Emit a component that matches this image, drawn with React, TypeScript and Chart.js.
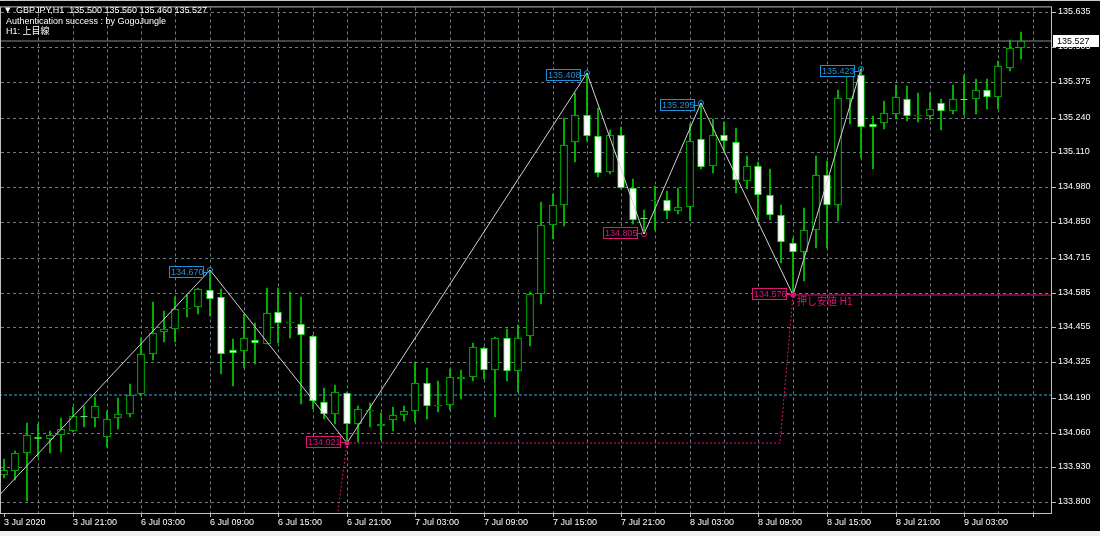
import React, { useEffect, useRef } from 'react';
import { Chart, registerables } from 'chart.js';

Chart.register(...registerables);

// ---- data ----
const opens = [133.903,133.917,133.985,134.043,134.037,134.053,134.065,134.124,134.116,134.043,134.116,134.129,134.205,134.356,134.438,134.447,134.522,134.530,134.596,134.568,134.369,134.366,134.408,134.393,134.512,134.471,134.469,134.424,134.174,134.130,134.209,134.093,134.142,134.086,134.109,134.127,134.140,134.248,134.159,134.164,134.263,134.267,134.378,134.294,134.415,134.292,134.422,134.579,134.840,134.912,135.150,135.251,135.170,135.036,135.176,134.977,134.866,134.927,134.931,134.890,134.906,135.160,135.061,135.176,135.151,135.003,135.061,134.949,134.874,134.770,134.736,134.819,135.024,134.912,135.311,135.402,135.218,135.219,135.253,135.309,135.245,135.247,135.294,135.266,135.311,135.309,135.344,135.318,135.427,135.500];
const highs = [133.963,133.991,134.095,134.091,134.066,134.116,134.155,134.161,134.195,134.143,134.190,134.242,134.415,134.549,134.515,134.567,134.577,134.604,134.670,134.598,134.410,134.503,134.471,134.602,134.604,134.589,134.567,134.426,134.227,134.239,134.211,134.161,134.170,134.134,134.158,134.161,134.325,134.304,134.254,134.298,134.295,134.395,134.381,134.418,134.450,134.463,134.587,134.924,134.955,135.241,135.331,135.408,135.278,135.195,135.207,135.011,134.893,134.986,134.964,134.976,135.216,135.295,135.234,135.225,135.200,135.098,135.073,135.047,134.914,134.790,134.902,135.098,135.079,135.344,135.415,135.423,135.247,135.303,135.361,135.359,135.334,135.331,135.311,135.364,135.402,135.386,135.386,135.452,135.530,135.560];
const lows = [133.890,133.882,133.805,133.969,133.984,133.987,134.062,134.081,134.081,134.006,134.075,134.118,134.199,134.331,134.401,134.399,134.493,134.505,134.499,134.279,134.236,134.302,134.319,134.391,134.397,134.413,134.168,134.149,134.112,134.093,134.021,134.025,134.081,134.031,134.066,134.103,134.099,134.113,134.136,134.145,134.186,134.252,134.261,134.118,134.254,134.214,134.385,134.541,134.785,134.834,135.076,135.154,135.017,135.030,134.974,134.843,134.805,134.819,134.862,134.881,134.852,135.048,135.033,135.117,134.959,134.974,134.856,134.858,134.695,134.576,134.627,134.753,134.753,134.852,135.216,135.088,135.048,135.197,135.234,135.228,135.225,135.232,135.195,135.253,135.249,135.253,135.274,135.274,135.414,135.460];
const closes = [133.922,133.985,134.052,134.037,134.051,134.075,134.124,134.117,134.161,134.110,134.129,134.202,134.356,134.434,134.447,134.523,134.526,134.599,134.561,134.356,134.359,134.413,134.395,134.509,134.470,134.475,134.426,134.180,134.130,134.211,134.091,134.149,134.145,134.093,134.125,134.143,134.248,134.161,134.165,134.267,134.269,134.382,134.295,134.415,134.292,134.415,134.579,134.838,134.915,135.139,135.249,135.170,135.033,135.176,134.977,134.858,134.860,134.931,134.890,134.906,135.154,135.057,135.176,135.154,135.005,135.060,134.949,134.877,134.773,134.737,134.819,135.024,134.914,135.315,135.405,135.207,135.206,135.257,135.318,135.247,135.249,135.274,135.264,135.311,135.305,135.344,135.318,135.433,135.501,135.527];

const timeLabels = ['3 Jul 2020','3 Jul 21:00','6 Jul 03:00','6 Jul 09:00','6 Jul 15:00','6 Jul 21:00','7 Jul 03:00','7 Jul 09:00','7 Jul 15:00','7 Jul 21:00','8 Jul 03:00','8 Jul 09:00','8 Jul 15:00','8 Jul 21:00','9 Jul 03:00'];
const labelStep = 6;
const gridStep = 3;
const priceTicks = [133.800,133.930,134.060,134.190,134.325,134.455,134.585,134.715,134.850,134.980,135.110,135.240,135.375,135.505,135.635];

const zzBars = [-1, 18, 30, 51, 56, 61, 69, 75];
const zzPrices = [133.800, 134.670, 134.021, 135.408, 134.805, 135.295, 134.576, 135.423];
const zzKinds = ['', 'high', 'low', 'high', 'low', 'high', 'low', 'high'];
const zzFilled = [false, false, true, false, false, false, true, false];

const dottedBars = [28.7, 30, 67.9, 69];
const dottedPrices = [133.600, 134.021, 134.021, 134.576];

const supportBar = 69;
const supportPrice = 134.576;
const supportText = '押し安値 H1';
const bluePrice = 134.2;
const lastPrice = 135.527;

const headerLine = 'GBPJPY,H1  135.500 135.560 135.460 135.527';
const infoLines = ['Authentication success : by GogoJungle', 'H1: 上目線'];

const X_MIN = -0.262;
const X_MAX = 91.69;
const Y_MIN = 133.759;
const Y_MAX = 135.6536;

const GREEN = '#00d000';
const BLUE = '#1e90d6';
const PINK = '#dc1478';
const GRID = '#6e7a86';
const FONT = '9px "Liberation Sans", "Noto Sans CJK JP", sans-serif';

const overlay = {
  id: 'mt4overlay',
  beforeDraw(chart: any) {
    const { ctx, width, height } = chart;
    ctx.save();
    ctx.fillStyle = '#000';
    ctx.fillRect(0, 0, width, height);
    ctx.fillStyle = '#f0f0f0';
    ctx.fillRect(0, height - 5, width, 5);
    ctx.fillStyle = '#c8c8c8';
    ctx.fillRect(0, 0, width, 1);
    ctx.restore();
  },
  afterDatasetsDraw(chart: any) {
    const { ctx } = chart;
    const x = chart.scales.x;
    const y = chart.scales.y;
    ctx.save();
    ctx.font = FONT;
    ctx.textBaseline = 'middle';
    ctx.textAlign = 'left';
    for (let i = 0; i < zzBars.length; i++) {
      if (!zzKinds[i]) continue;
      const px = x.getPixelForValue(zzBars[i]);
      const py = y.getPixelForValue(zzPrices[i]);
      const col = zzKinds[i] === 'high' ? BLUE : PINK;
      const cy = Math.round(zzKinds[i] === 'high' ? py + 2 : py - 1);
      const bw = 35, bh = 12;
      const bx = Math.round(px - 6.5 - bw);
      const by = cy - 6;
      ctx.fillStyle = '#000';
      ctx.fillRect(bx, by, bw, bh);
      ctx.strokeStyle = col;
      ctx.lineWidth = 1;
      ctx.strokeRect(bx + 0.5, by + 0.5, bw - 1, bh - 1);
      ctx.fillStyle = col;
      ctx.fillText(zzPrices[i].toFixed(3), bx + 2, cy + 0.5);
      ctx.beginPath();
      ctx.moveTo(bx + bw, cy + 0.5);
      ctx.lineTo(px - 2, cy + 0.5);
      ctx.stroke();
      ctx.beginPath();
      ctx.arc(px, py, 2.5, 0, Math.PI * 2);
      if (zzFilled[i]) {
        ctx.fill();
      } else {
        ctx.stroke();
      }
    }
    const sx = x.getPixelForValue(supportBar);
    const sy = y.getPixelForValue(supportPrice);
    ctx.fillStyle = PINK;
    ctx.font = '10px "Liberation Sans", "Noto Sans CJK JP", sans-serif';
    ctx.fillText(supportText, sx + 4, sy + 7);
    ctx.restore();
  },
  afterDraw(chart: any) {
    const { ctx } = chart;
    const ca = chart.chartArea;
    const y = chart.scales.y;
    ctx.save();
    ctx.strokeStyle = '#c0c0c0';
    ctx.lineWidth = 1;
    ctx.strokeRect(ca.left - 0.5, ca.top - 0.5, ca.right - ca.left, ca.bottom - ca.top + 1);
    // header texts
    ctx.fillStyle = '#ffffff';
    ctx.textBaseline = 'middle';
    ctx.textAlign = 'left';
    ctx.font = '7px "DejaVu Sans", sans-serif';
    ctx.fillText('▼', 5, 10);
    ctx.font = FONT;
    ctx.fillText(headerLine, 16, 10.5);
    infoLines.forEach((t, i) => ctx.fillText(t, 6, 21.5 + i * 10));
    // current price box on axis
    const py = Math.round(y.getPixelForValue(lastPrice));
    ctx.fillStyle = '#ffffff';
    ctx.fillRect(ca.right + 1, py - 6, 46, 12);
    ctx.fillStyle = '#000000';
    ctx.fillText(lastPrice.toFixed(3), ca.right + 5, py + 0.5);
    ctx.restore();
  },
};

export default function App() {
  const ref = useRef<HTMLCanvasElement | null>(null);

  useEffect(() => {
    document.body.style.margin = '0';
    const canvas = ref.current;
    if (!canvas) return;
    const idx = opens.map((_, i) => i);
    const bull = idx.map((i) => closes[i] >= opens[i]);

    const chart = new Chart(canvas, {
      type: 'bar',
      data: {
        datasets: [
          {
            type: 'line',
            data: zzBars.map((b, i) => ({ x: b, y: zzPrices[i] })),
            borderColor: '#d2d2d2',
            borderWidth: 1,
            pointRadius: 0,
            tension: 0,
            order: -2,
            clip: 0,
          } as any,
          {
            type: 'line',
            data: dottedBars.map((b, i) => ({ x: b, y: dottedPrices[i] })),
            borderColor: PINK,
            borderWidth: 1,
            borderDash: [2, 2],
            pointRadius: 0,
            tension: 0,
            order: -1,
            clip: 0,
          } as any,
          {
            type: 'line',
            data: [{ x: supportBar, y: supportPrice }, { x: X_MAX + 5, y: supportPrice }],
            borderColor: PINK,
            borderWidth: 1,
            pointRadius: 0,
            order: -1,
            clip: 0,
          } as any,
          {
            type: 'bar',
            data: idx.map((i) => ({ x: i, y: [opens[i], closes[i]] })),
            backgroundColor: idx.map((i) => (bull[i] ? '#000000' : '#ffffff')),
            borderColor: GREEN,
            borderWidth: 1,
            borderSkipped: false,
            barThickness: 7,
            grouped: false,
            order: 1,
          } as any,
          {
            type: 'bar',
            data: idx.map((i) => ({ x: i, y: [lows[i], highs[i]] })),
            backgroundColor: GREEN,
            borderWidth: 0,
            barThickness: 1,
            grouped: false,
            order: 2,
          } as any,
          {
            type: 'line',
            data: [{ x: X_MIN - 5, y: bluePrice }, { x: X_MAX + 5, y: bluePrice }],
            borderColor: '#3aa8d8',
            borderWidth: 1,
            borderDash: [3, 2],
            pointRadius: 0,
            order: 3,
            clip: 0,
          } as any,
          {
            type: 'line',
            data: [{ x: X_MIN - 5, y: lastPrice }, { x: X_MAX + 5, y: lastPrice }],
            borderColor: '#8a8a8a',
            borderWidth: 1,
            pointRadius: 0,
            order: 3,
            clip: 0,
          } as any,
        ],
      },
      options: {
        responsive: false,
        animation: false,
        events: [],
        layout: { padding: { left: 1, top: 4, right: 0, bottom: 0 } },
        plugins: {
          legend: { display: false },
          tooltip: { enabled: false },
        },
        scales: {
          x: {
            type: 'linear',
            min: X_MIN,
            max: X_MAX,
            offset: false,
            alignToPixels: true,
            afterBuildTicks: (scale: any) => {
              const t = [];
              for (let v = 0; v <= 90; v += gridStep) t.push({ value: v });
              scale.ticks = t;
            },
            afterFit: (scale: any) => {
              scale.height = 23;
            },
            grid: {
              offset: false,
              color: (c: any) => (c.tick && c.tick.value === 0 ? 'rgba(0,0,0,0)' : GRID),
              tickColor: (c: any) => (c.tick && c.tick.value % labelStep === 0 ? '#c0c0c0' : 'rgba(0,0,0,0)'),
              tickLength: 4,
              tickBorderDash: [],
              lineWidth: 1,
            },
            border: { display: false, dash: [3, 3] },
            ticks: {
              autoSkip: false,
              maxRotation: 0,
              minRotation: 0,
              align: 'start',
              padding: 0,
              color: '#ffffff',
              font: { family: '"Liberation Sans", sans-serif', size: 9 },
              callback: (v: any) => {
                const n = Math.round(Number(v));
                return n % labelStep === 0 && timeLabels[n / labelStep] ? timeLabels[n / labelStep] : '';
              },
            },
          },
          y: {
            type: 'linear',
            position: 'right',
            min: Y_MIN,
            max: Y_MAX,
            alignToPixels: true,
            afterBuildTicks: (scale: any) => {
              scale.ticks = priceTicks.map((v) => ({ value: v }));
            },
            afterFit: (scale: any) => {
              scale.width = 48;
            },
            grid: {
              color: (c: any) => (c.tick && Math.abs(c.tick.value - 134.19) < 0.001 ? 'rgba(0,0,0,0)' : GRID),
              tickColor: '#c0c0c0',
              tickLength: 4,
              tickBorderDash: [],
              lineWidth: 1,
            },
            border: { display: false, dash: [3, 3] },
            ticks: {
              padding: 2,
              color: '#ffffff',
              font: { family: '"Liberation Sans", sans-serif', size: 9 },
              callback: (v: any) => Number(v).toFixed(3),
            },
          },
        },
      },
      plugins: [overlay],
    } as any);

    return () => chart.destroy();
  }, []);

  return (
    <div style={{ position: 'fixed', left: 0, top: 0, width: 1100, height: 536, background: '#000' }}>
      <canvas ref={ref} width={1100} height={536} style={{ display: 'block', width: 1100, height: 536 }} />
    </div>
  );
}
